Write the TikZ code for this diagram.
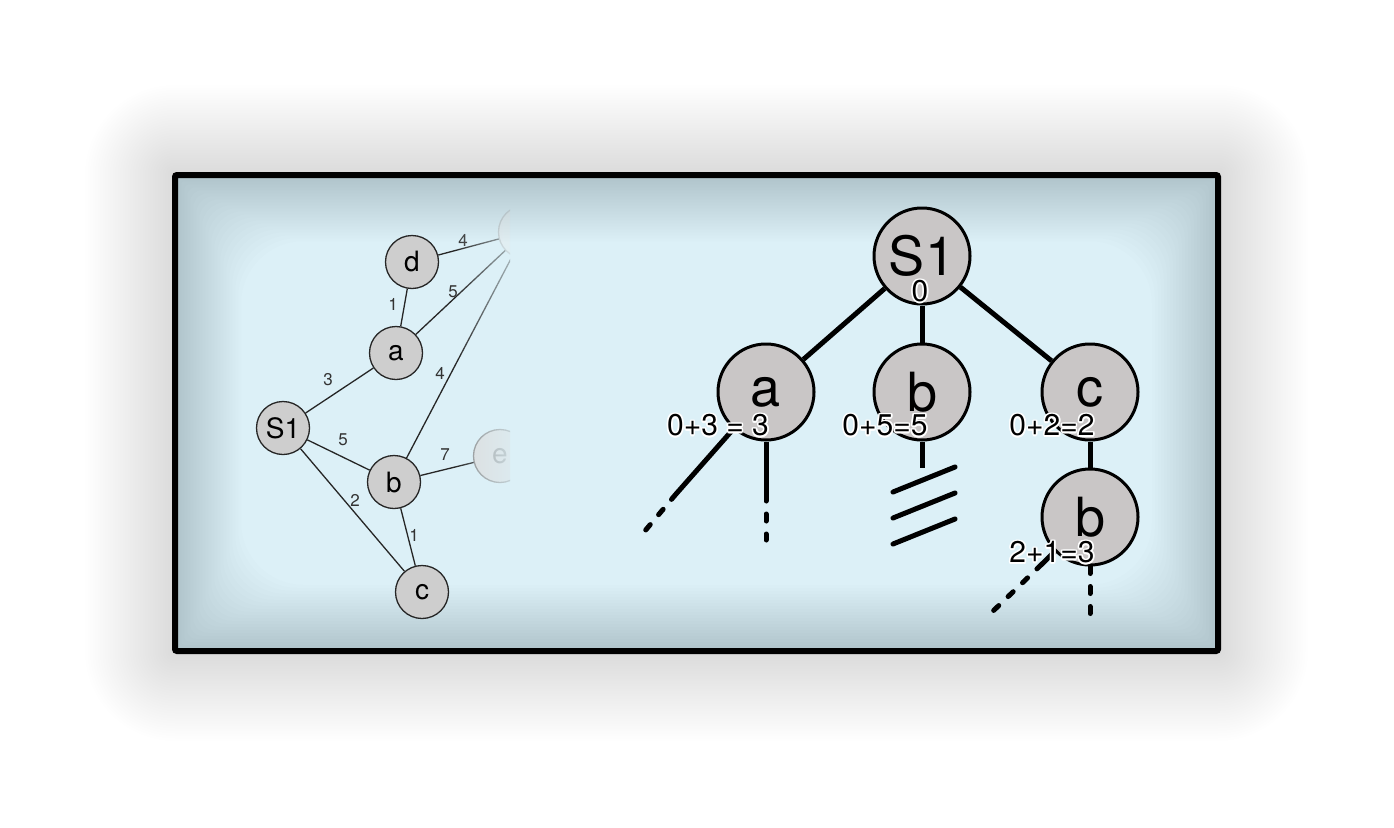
\documentclass[tikz,border=0pt]{standalone}
\usepackage{fontspec}
\setmainfont{TeX Gyre Heros}
\usepackage[copies]{contour}
\usetikzlibrary{fadings}
\definecolor{paneblue}{HTML}{DCF0F7}
\definecolor{vigblue}{HTML}{61737B}
\definecolor{nodegray}{HTML}{CECECE}
\definecolor{treegray}{HTML}{C9C6C6}
\contourlength{1.6pt}
\contournumber{12}
\newcommand{\halo}[1]{\contour{white}{#1}}
\pgfdeclarelayer{pane}
\pgfdeclarelayer{links}
\pgfdeclarelayer{fade}
\pgfdeclarelayer{shade}
\pgfsetlayers{pane,links,fade,shade,main}
\tikzset{
  gnode/.style={circle, draw=black!85, line width=1.3pt, fill=nodegray, minimum size=53pt, inner sep=0pt, font=\fontsize{28}{28}\selectfont},
  gedge/.style={line width=1.3pt, black!85},
  gweight/.style={font=\fontsize{17}{17}\selectfont, text=black!80, inner sep=0pt},
  tnode/.style={circle, draw=black, line width=3pt, fill=treegray, minimum size=96pt, inner sep=0pt, font=\fontsize{54}{54}\selectfont},
  tedge/.style={line width=5pt},
  tdash/.style={line width=5pt, line cap=round, dash pattern=on 7pt off 13pt},
  tcut/.style={line width=5pt, line cap=round},
  tlabel/.style={font=\fontsize{30}{30}\selectfont, inner sep=0pt}
}

\begin{document}
\begin{tikzpicture}[x=1pt,y=-1pt]
  \useasboundingbox (0,0) rectangle (1394,827);
  \begin{pgfonlayer}{pane}
    \fill[white] (0,0) rectangle (1394,827);
    \foreach \i [evaluate=\i as \r using \i*2.5] in {1,...,36}
      \fill[black, opacity=0.0055, rounded corners=\r pt] (175-\r,175-\r) rectangle (1218+\r,651+\r);
    \fill[paneblue] (175,175) rectangle (1218,651);
  \end{pgfonlayer}
  \begin{pgfonlayer}{shade}
    \foreach \d in {3,6,...,63}
      \fill[vigblue, opacity=0.014, even odd rule] (178,178) rectangle (1215,648) [rounded corners=\d pt] (178+\d,178+\d) rectangle (1215-\d,648-\d);
  \end{pgfonlayer}

  % the graph on the left
  \node[gnode] (gS1) at (283,428) {S1};
  \node[gnode] (ga) at (396,353) {a};
  \node[gnode] (gd) at (412,262) {d};
  \node[gnode] (gb) at (394,482) {b};
  \node[gnode] (gc) at (422,592) {c};
  \begin{pgfonlayer}{links}
    \clip (178,178) rectangle (510,648);
    \node[gnode, draw=black!45, fill=nodegray!70, text=black!40] (ge) at (500,456) {e};
    \node[gnode, draw=black!30, fill=nodegray!40] (gt) at (525,232) {};
    \draw[gedge] (gS1) -- (ga);
    \draw[gedge] (ga) -- (gd);
    \draw[gedge] (gS1) -- (gb);
    \draw[gedge] (gS1) -- (gc);
    \draw[gedge] (gb) -- (gc);
    \draw[gedge] (gd) -- (gt);
    \draw[gedge] (ga) -- (gt);
    \draw[gedge] (gb) -- (gt);
    \draw[gedge] (gb) -- (ge);
    \node[gweight] (w1) at (328,380) {3};
    \node[gweight] (w2) at (393,304) {1};
    \node[gweight] (w3) at (463,240) {4};
    \node[gweight] (w4) at (453,292) {5};
    \node[gweight] (w5) at (440,373) {4};
    \node[gweight] (w6) at (343,440) {5};
    \node[gweight] (w7) at (445,455) {7};
    \node[gweight] (w8) at (355,500) {2};
    \node[gweight] (w9) at (414,535) {1};
  \end{pgfonlayer}
  \begin{pgfonlayer}{fade}
    \fill[paneblue, fill opacity=0.7, path fading=west] (455,180) rectangle (511,646);
  \end{pgfonlayer}

  % the search tree
  \node[tnode] (S1) at (922,256) {S1};
  \node[tnode] (a) at (766,392) {a};
  \node[tnode] (b) at (922,392) {b};
  \node[tnode] (c) at (1090,392) {c};
  \node[tnode] (cb) at (1090,517) {b};
  \draw[tedge] (S1) -- (a);
  \draw[tedge] (S1) -- (b);
  \draw[tedge] (S1) -- (c);
  \draw[tedge] (c) -- (cb);

  \coordinate (a1) at (676,494);
  \coordinate (a2) at (644,532);
  \coordinate (a3) at (766,494);
  \coordinate (a4) at (766,540);
  \draw[tedge] (a) -- (a1);
  \draw[tdash] (a1) -- (a2);
  \draw[tedge] (a) -- (a3);
  \draw[tdash] (a3) -- (a4);

  \coordinate (b1) at (922,468);
  \draw[tedge] (b) -- (b1);
  \foreach \k in {0,1,2}
    \draw[tcut] (893,492+26*\k) -- (955,467+26*\k);

  \coordinate (cb1) at (1042,564);
  \coordinate (cb2) at (991,613);
  \coordinate (cb3) at (1090,620);
  \draw[tedge] (cb) -- (cb1);
  \draw[tdash] (cb1) -- (cb2);
  \draw[tdash] (cb) -- (cb3);

  \node[tlabel] (l0) at (920,292) {\halo{0}};
  \node[tlabel] (la) at (718,426) {\halo{0+3 = 3}};
  \node[tlabel] (lb) at (885,426) {\halo{0+5=5}};
  \node[tlabel] (lc) at (1052,426) {\halo{0+2=2}};
  \node[tlabel] (lcb) at (1052,553) {\halo{2+1=3}};

  \draw[line width=6pt, rounded corners=2pt] (175,175) rectangle (1218,651);
\end{tikzpicture}
\end{document}
